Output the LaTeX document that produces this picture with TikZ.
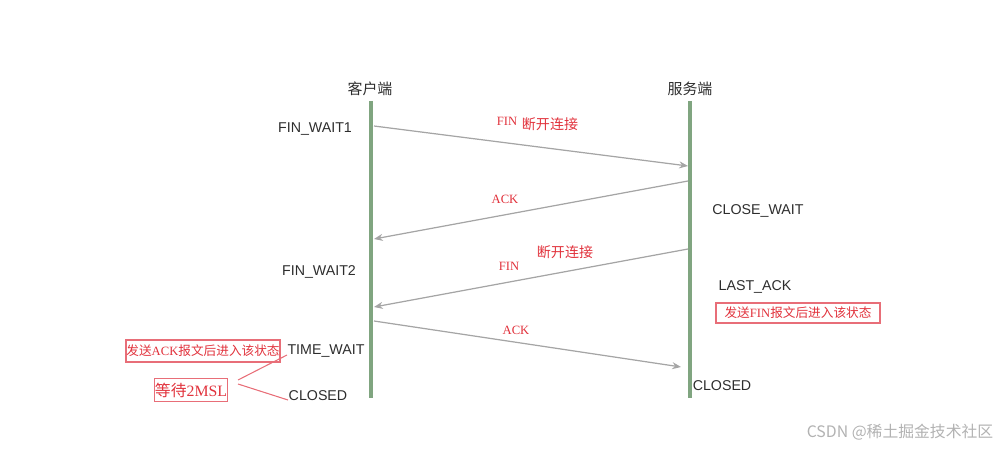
\documentclass[tikz,border=0pt]{standalone}
\usepackage{fontspec}
\setmainfont{Liberation Sans}
\newfontfamily\cjk{Noto Sans CJK SC}
\newfontfamily\redserif{Liberation Serif}
\usetikzlibrary{arrows.meta,positioning}
\definecolor{lifegreen}{RGB}{128,165,128}
\definecolor{msggray}{RGB}{165,165,165}
\definecolor{notered}{RGB}{225,50,60}
\definecolor{boxred}{RGB}{232,110,120}
\definecolor{stategray}{RGB}{45,45,45}

\begin{document}
\begin{tikzpicture}[
    x=0.02cm, y=-0.02cm,
    >={Stealth[length=5pt,width=4pt]},
    who/.style={font=\cjk\fontsize{8.5}{10}\selectfont, text=stategray},
    state/.style={font=\fontsize{8.1}{10}\selectfont, text=stategray},
    lifeline/.style={draw=lifegreen, line width=2.2pt},
    msg/.style={->, draw=msggray, line width=0.7pt},
    msglabel/.style={font=\redserif\fontsize{7.2}{9}\selectfont, text=notered},
    cnlabel/.style={font=\cjk\fontsize{8}{9}\selectfont, text=notered},
    notebox/.style={draw=boxred, line width=0.6pt, text=notered, inner sep=0pt,
        font=\fontsize{7.2}{9}\selectfont}
]
\useasboundingbox (0,0) rectangle (1000,449);

% lifelines
\node[who] (client) at (370,89) {客户端};
\node[who] (server) at (690,89) {服务端};
\coordinate (ctop) at (371,101);
\coordinate (cbot) at (371,398);
\coordinate (stop) at (690,101);
\coordinate (sbot) at (690,398);
\draw[lifeline] (ctop) -- (cbot);
\draw[lifeline] (stop) -- (sbot);

% states
\node[state] (finwait1) at (315,129) {FIN\_WAIT1};
\node[state] (finwait2) at (319,272) {FIN\_WAIT2};
\node[state] (timewait) at (326,351) {TIME\_WAIT};
\node[state] (cclosed) at (318,396) {CLOSED};
\node[state] (closewait) at (758,211) {CLOSE\_WAIT};
\node[state] (lastack) at (755,287) {LAST\_ACK};
\node[state] (sclosed) at (722,386) {CLOSED};

% messages
\coordinate (fin1s) at (374,126);
\coordinate (fin1e) at (688,166);
\coordinate (ack1s) at (688,181);
\coordinate (ack1e) at (374,239);
\coordinate (fin2s) at (688,249);
\coordinate (fin2e) at (374,307);
\coordinate (ack2s) at (374,321);
\coordinate (ack2e) at (681,367);
\draw[msg] (fin1s) -- (fin1e);
\draw[msg] (ack1s) -- (ack1e);
\draw[msg] (fin2s) -- (fin2e);
\draw[msg] (ack2s) -- (ack2e);

\node[msglabel] (fin1) at (507,121) {FIN};
\node[cnlabel] (cut1) at (550,124) {断开连接};
\node[msglabel] (ack1) at (505,199) {ACK};
\node[cnlabel] (cut2) at (565,252) {断开连接};
\node[msglabel] (fin2) at (509,266) {FIN};
\node[msglabel] (ack2) at (516,330) {ACK};

% notes
\node[notebox, minimum width=164*0.02cm, minimum height=20*0.02cm] (finnote) at (798,313)
    {{\cjk 发送}{\redserif FIN}{\cjk 报文后进入该状态}};
\node[notebox, minimum width=154*0.02cm, minimum height=22*0.02cm] (acknote) at (203,351)
    {{\cjk 发送}{\redserif ACK}{\cjk 报文后进入该状态}};
\node[notebox, minimum width=73*0.02cm, minimum height=23*0.02cm,
    font=\fontsize{9}{11}\selectfont] (wait) at (191,390)
    {{\cjk 等待}{\redserif 2MSL}};
\coordinate (waitA) at (238,380);
\coordinate (waitB) at (238,384);
\coordinate (twpt) at (287,355);
\coordinate (clpt) at (288,400);
\draw[boxred, line width=0.6pt] (waitA) -- (twpt);
\draw[boxred, line width=0.6pt] (waitB) -- (clpt);

\node[text=black!30, font=\cjk\fontsize{9}{11}\selectfont] (mark) at (900,432) {CSDN @稀土掘金技术社区};
\end{tikzpicture}
\end{document}
